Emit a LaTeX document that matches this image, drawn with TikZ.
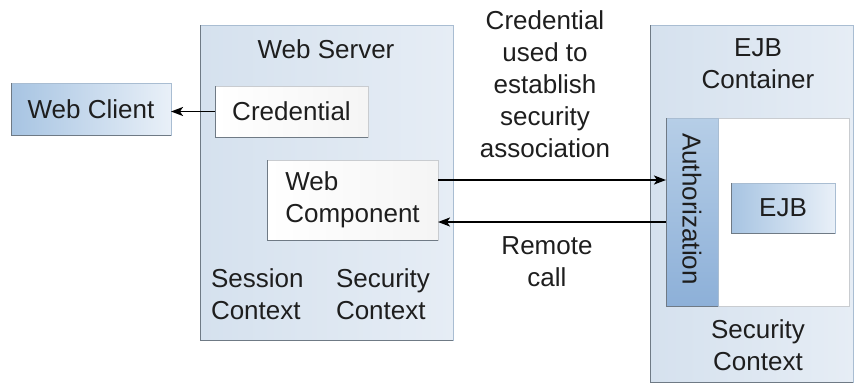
\documentclass[tikz,border=0pt]{standalone}
\usepackage{fontspec}
\setmainfont{Liberation Sans}
\usetikzlibrary{arrows.meta}
\definecolor{txt}{HTML}{1E1E1E}
\definecolor{srvL}{HTML}{D5E1EE}
\definecolor{srvR}{HTML}{E6EDF5}
\definecolor{srvB}{HTML}{A9BDD2}
\definecolor{edge}{HTML}{6F7A85}
\definecolor{wbord}{HTML}{C9CCD0}
\definecolor{blueL}{HTML}{A7C4E2}
\definecolor{blueR}{HTML}{E9F0F8}
\definecolor{authB}{HTML}{8DB0D8}
\definecolor{authT}{HTML}{B6CEE7}
\tikzset{
  every node/.style={font=\fontsize{26}{32}\selectfont, text=txt, inner sep=0pt, outer sep=0pt},
  container/.style={draw=srvB, line width=0.8pt, left color=srvL, right color=srvR},
  whitebox/.style={draw=wbord, line width=0.8pt, left color=white, right color=white!92!gray},
  bluebox/.style={draw=srvB, line width=0.8pt, left color=blueL, right color=blueR},
  authbox/.style={draw=srvB, line width=0.8pt, bottom color=authB, top color=authT},
  shadowedge/.style={draw=edge, line width=1pt},
  conn/.style={line width=1.9pt, -{Stealth[length=12pt,width=9pt,inset=3pt]}},
  lbl/.style={align=center}
}
\begin{document}
\begin{tikzpicture}[x=1pt,y=-1pt]
\useasboundingbox (0,0) rectangle (855,389);
% Web client
\node[bluebox, minimum width=160pt, minimum height=52pt] (wc) at (91,109) {Web Client};
\draw[shadowedge] (wc.north west) -- (wc.south west) -- (wc.south east);
% Web server
\node[container, minimum width=253pt, minimum height=315pt] (ws) at (326.5,182.5) {};
\draw[shadowedge] (ws.north west) -- (ws.south west) -- (ws.south east);
\node (wstitle) at (326,49) {Web Server};
\node[whitebox, minimum width=153pt, minimum height=51pt] (cred) at (291.5,111.5) {Credential};
\draw[shadowedge] (cred.north west) -- (cred.south west) -- (cred.south east);
\node[whitebox, minimum width=171pt, minimum height=80pt, align=left] (wcomp) at (352.5,200) {Web\\Component};
\draw[shadowedge] (wcomp.north west) -- (wcomp.south west) -- (wcomp.south east);
\node[anchor=west, align=left] (sess) at (211,294.5) {Session\\Context};
\node[anchor=west, align=left] (wsec) at (336,294.5) {Security\\Context};
% EJB container
\node[container, minimum width=203pt, minimum height=357pt] (ejbc) at (751.5,203.5) {};
\draw[shadowedge] (ejbc.north west) -- (ejbc.south west) -- (ejbc.south east);
\node[lbl] (ejbtitle) at (758,64) {EJB\\Container};
\node[draw=wbord, line width=0.8pt, fill=white, minimum width=183pt, minimum height=188pt] (inner) at (757.5,212) {};
\node[authbox, minimum width=52pt, minimum height=188pt] (auth) at (692,212) {};
\draw[shadowedge] (auth.north west) -- (auth.south west) -- (auth.south east);
\node[rotate=-90] (authlbl) at (692,209) {Authorization};
\node[bluebox, minimum width=104pt, minimum height=50pt] (ejb) at (783,208) {EJB};
\draw[shadowedge] (ejb.north west) -- (ejb.south west) -- (ejb.south east);
\node[lbl] (esec) at (758,345) {Security\\Context};
% labels
\node[lbl] (credlbl) at (545,84) {Credential\\used to\\establish\\security\\association};
\node[lbl] (remlbl) at (547,261.5) {Remote\\call};
% connectors
\draw[conn] (cred.west) -- (cred.west -| wc.east);
\draw[conn] ([yshift=20pt]wcomp.east) -- ([yshift=20pt]wcomp.east -| auth.west);
\draw[conn] ([yshift=-22pt]wcomp.east -| auth.west) -- ([yshift=-22pt]wcomp.east);
\end{tikzpicture}
\end{document}
